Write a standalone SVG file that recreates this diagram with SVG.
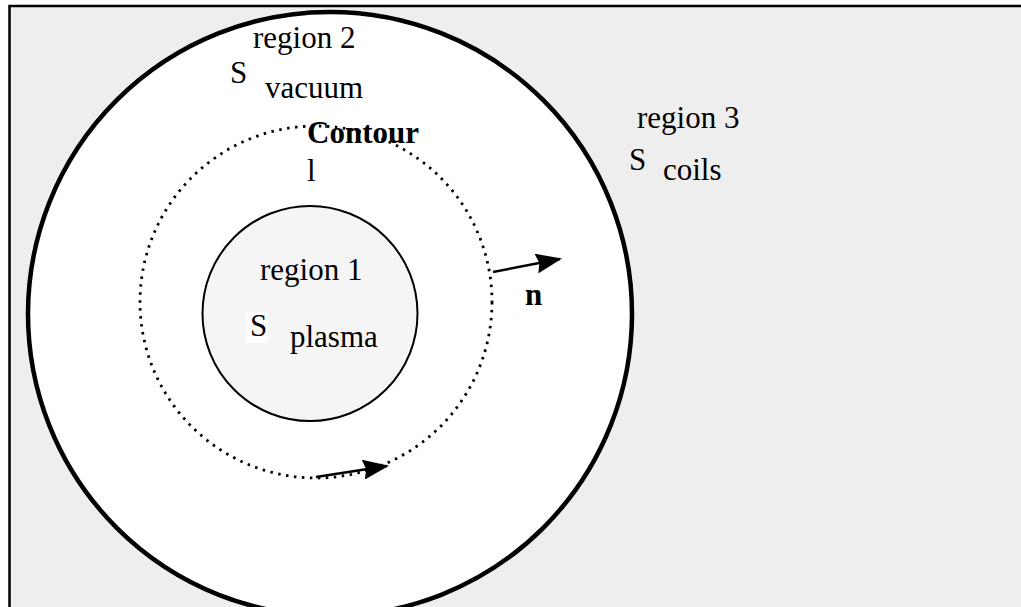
<svg xmlns="http://www.w3.org/2000/svg" width="1021" height="607" viewBox="0 0 1021 607">
  <defs>
    <style>
      .lbl { font-family: "Liberation Serif", "Times New Roman", serif; font-size: 31px; fill: #000; }
      .bold { font-weight: bold; }
      .conn { stroke: #000; stroke-width: 2.5; fill: none; }
    </style>
    <marker id="head" viewBox="0 0 26 20" refX="24" refY="10" markerWidth="26" markerHeight="20" markerUnits="userSpaceOnUse" orient="auto">
      <path d="M0,0 L26,10 L0,20 L3,10 z" fill="#000"/>
    </marker>
  </defs>

  <!-- frame -->
  <rect x="9.5" y="6" width="1030" height="620" fill="#eeeeee" stroke="#000" stroke-width="2.5"/>

  <!-- region 2: vacuum boundary -->
  <g id="region2">
    <circle cx="330" cy="314" r="302" fill="#ffffff" stroke="#000" stroke-width="4.5"/>
    <text class="lbl" x="253" y="48">region 2</text>
    <text class="lbl" x="230" y="83">S</text>
    <text class="lbl" x="265" y="98">vacuum</text>
  </g>

  <!-- integration contour -->
  <g id="contour">
    <circle cx="316" cy="302" r="176" fill="none" stroke="#000" stroke-width="2.8" stroke-dasharray="2.5 5.5"/>
    <text class="lbl bold" x="307" y="143">Contour</text>
    <text class="lbl" x="307" y="181">l</text>
  </g>

  <!-- region 1: plasma -->
  <g id="region1">
    <circle cx="310" cy="313.5" r="107.5" fill="#f5f5f5" stroke="#000" stroke-width="2"/>
    <text class="lbl" x="260" y="280">region 1</text>
    <rect x="246" y="312" width="22" height="31" fill="#ffffff"/>
    <text class="lbl" x="250" y="336">S</text>
    <text class="lbl" x="290" y="347">plasma</text>
  </g>

  <!-- region 3: coils -->
  <g id="region3">
    <text class="lbl" x="637" y="128">region 3</text>
    <text class="lbl" x="629" y="170">S</text>
    <text class="lbl" x="663" y="180">coils</text>
  </g>

  <!-- normal label -->
  <g id="normal">
    <text class="lbl bold" x="525" y="305">n</text>
  </g>

  <!-- connectors -->
  <g id="connectors">
    <line class="conn" x1="493" y1="272" x2="560" y2="259" marker-end="url(#head)"/>
    <line class="conn" x1="316" y1="477" x2="387" y2="466" marker-end="url(#head)"/>
  </g>
</svg>
